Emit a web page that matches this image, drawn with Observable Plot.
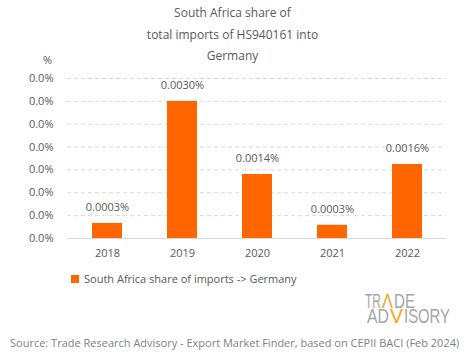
<!DOCTYPE html>
<html>
<head>
<meta charset="utf-8">
<script src="https://cdn.jsdelivr.net/npm/d3@7"></script>
<script src="https://cdn.jsdelivr.net/npm/@observablehq/plot@0.6"></script>
<style>
  body { margin: 0; background: #fff; font-family: "Open Sans", sans-serif; color: #595959; }
  #wrap { position: relative; width: 465px; height: 359px; overflow: hidden; }
  .abs { position: absolute; white-space: nowrap; }
  #title { left: 0; width: 465px; top: 2px; text-align: center; font-size: 12px; line-height: 21.5px; }
  #pct { left: 43px; top: 52px; font-size: 11px; }
  #chart { left: 0; top: 66px; }
  #legend { left: 71px; top: 271px; font-size: 11px; display: flex; align-items: center; }
  #legend .sw { width: 8px; height: 8px; background: #ff6600; margin-right: 5px; }
  #logo { left: 360px; top: 283px; overflow: visible; }
  #source { left: 10px; top: 335px; font-size: 11px; color: #7f7f7f; }
</style>
</head>
<body>
<div id="wrap">
  <div id="title" class="abs">South Africa share of<br>total imports of HS940161 into<br>Germany</div>
  <div id="pct" class="abs">%</div>
  <div id="chart" class="abs"></div>
  <div id="legend" class="abs"><span class="sw"></span><span>South Africa share of imports -&gt; Germany</span></div>
  <svg id="logo" class="abs" width="100" height="52" font-family="Liberation Sans, Arial, sans-serif" font-size="19.5" fill="#a6a6a6">
    <text x="5" y="25" textLength="16" lengthAdjust="spacingAndGlyphs">TR</text>
    <text x="22" y="25" textLength="11" lengthAdjust="spacingAndGlyphs" fill="#f5a623">Λ</text>
    <text x="34" y="25" textLength="21" lengthAdjust="spacingAndGlyphs">DE</text>
    <text x="7" y="40" textLength="22" lengthAdjust="spacingAndGlyphs">AD</text>
    <text x="30" y="40" textLength="13" lengthAdjust="spacingAndGlyphs" fill="#f5a623">V</text>
    <text x="44" y="40" textLength="46" lengthAdjust="spacingAndGlyphs">ISORY</text>
  </svg>
  <div id="source" class="abs">Source: Trade Research Advisory - Export Market Finder, based on CEPII BACI (Feb 2024)</div>
</div>
<script>
const years = ["2018", "2019", "2020", "2021", "2022"];
const shares = [0.00033, 0.0030, 0.0014, 0.00029, 0.00162];
const yTicks = [0, 0.0005, 0.001, 0.0015, 0.002, 0.0025, 0.003, 0.0035];

const data = years.map((y, i) => ({year: y, share: shares[i]}));

const chart = Plot.plot({
  width: 465,
  height: 200,
  marginTop: 12,
  marginBottom: 28,
  marginLeft: 67,
  marginRight: 19,
  style: {fontFamily: "Open Sans, sans-serif", fontSize: "11px", color: "#595959", background: "transparent"},
  x: {domain: years, paddingInner: 0.6, paddingOuter: 0.3, label: null, tickSize: 0, tickPadding: 11},
  y: {domain: [0, 0.0035], ticks: yTicks, tickFormat: d => d3.format(".1f")(d) + "%", label: null, tickSize: 0, tickPadding: 14},
  marks: [
    Plot.gridY(yTicks.slice(1), {stroke: "#d9d9d9", strokeOpacity: 1, strokeDasharray: "4,3"}),
    Plot.ruleY([0], {stroke: "#d9d9d9", strokeWidth: 1}),
    Plot.barY(data, {x: "year", y: "share", fill: "#ff6600"}),
    Plot.text(data, {x: "year", y: "share", text: d => d3.format(".4f")(d.share) + "%", dy: -16, fill: "#595959", fontSize: 11})
  ]
});
document.getElementById("chart").appendChild(chart);
</script>
</body>
</html>
